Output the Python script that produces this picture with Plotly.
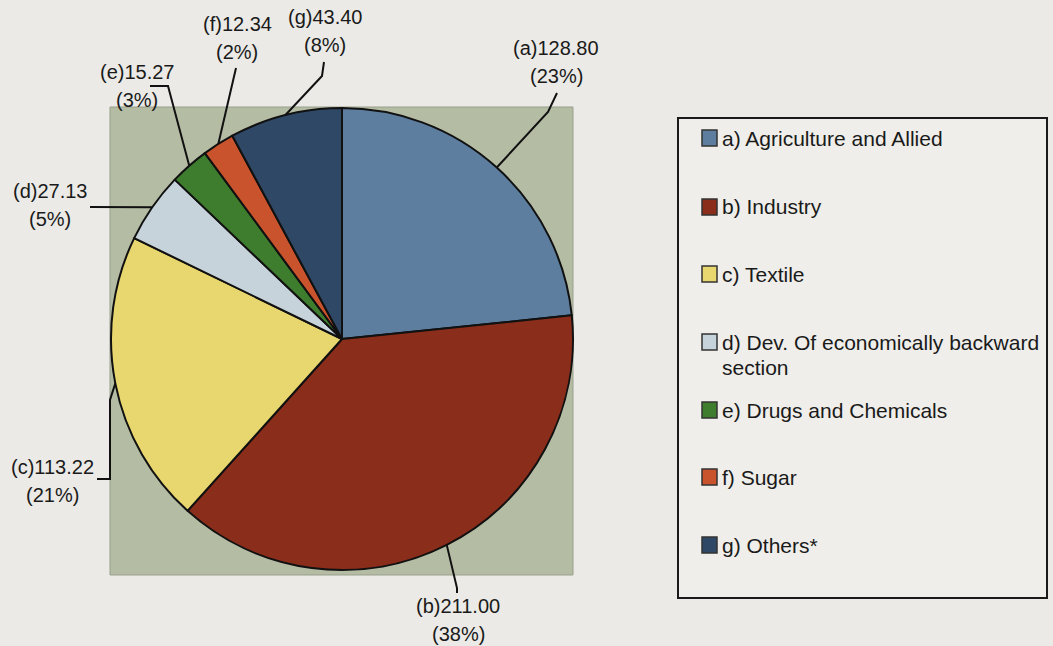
import math
import plotly.graph_objects as go

# ---- data ----
codes = ["a", "b", "c", "d", "e", "f", "g"]
legend_names = ["a) Agriculture and Allied", "b) Industry", "c) Textile",
                "d) Dev. Of economically backward|section", "e) Drugs and Chemicals",
                "f) Sugar", "g) Others*"]
values = [128.80, 211.00, 113.22, 27.13, 15.27, 12.34, 43.40]
percent_labels = ["23%", "38%", "21%", "5%", "3%", "2%", "8%"]
colors = ["#5d7e9f", "#8a2d1b", "#e8d66e", "#c6d3da", "#3e7d2e", "#c9532c", "#2e4866"]

W, H = 1053, 646
def px(x): return x / W
def py(y): return 1 - y / H

FONT = "Liberation Sans, Arial"

# layout helpers (pixel positions)
pie_box = (110, 108, 574, 570)          # left, top, right, bottom
cx, cy, R = (110 + 574) / 2, (108 + 570) / 2, 231
label_pos = [(556, 48), (458, 606), (52, 467), (50, 191), (137, 72), (237, 24), (325, 17)]
line_gap = 28
elbows = [[(548, 112), (557, 93)],
          [(457, 588), (457, 593)],
          [(110, 400), (110, 479), (97, 479)],
          [(90, 207)],
          [(168, 86), (150, 86)],
          [(236, 68)],
          [(322, 76), (324, 62)]]

fig = go.Figure(go.Pie(
    labels=[n.replace("|", " ") for n in legend_names], values=values, sort=False,
    direction="clockwise", rotation=0,
    marker=dict(colors=colors, line=dict(color="#111111", width=2)),
    textinfo="none", hoverinfo="label+value+percent", showlegend=False,
    domain=dict(x=[px(pie_box[0]), px(pie_box[2])], y=[py(pie_box[3]), py(pie_box[1])]),
))

shapes = []
# plot-area rectangle
shapes.append(dict(type="rect", xref="paper", yref="paper", layer="below",
                   x0=px(110), x1=px(573), y0=py(575), y1=py(107),
                   fillcolor="#b5bca4", line=dict(color="#9a9f8c", width=1)))

annotations = []
total = sum(values)
cum = 0
for i, v in enumerate(values):
    mid = (cum + v / 2) / total * 2 * math.pi
    cum += v
    ax_ = cx + R * math.sin(mid)
    ay_ = cy - R * math.cos(mid)
    pts = [(ax_, ay_)] + elbows[i]
    path = "M " + " L ".join(f"{px(x):.5f},{py(y):.5f}" for x, y in pts)
    shapes.append(dict(type="path", xref="paper", yref="paper", path=path,
                       line=dict(color="#111111", width=2)))
    lx, ly = label_pos[i]
    for k, txt in enumerate([f"({codes[i]}){values[i]:.2f}", f"({percent_labels[i]})"]):
        annotations.append(dict(xref="paper", yref="paper", x=px(lx), y=py(ly + k * line_gap),
                                text=txt, showarrow=False, xanchor="center", yanchor="middle",
                                font=dict(family=FONT, size=20, color="#1a1a1a")))

# custom legend
shapes.append(dict(type="rect", xref="paper", yref="paper",
                   x0=px(678), x1=px(1047), y0=py(598), y1=py(118),
                   fillcolor="#efeeea", line=dict(color="#1a1a1a", width=2)))
item_y = [138, 207, 274, 342, 410, 477, 545]
for i, name in enumerate(legend_names):
    yy = item_y[i]
    shapes.append(dict(type="rect", xref="paper", yref="paper",
                       x0=px(702), x1=px(717), y0=py(yy + 8), y1=py(yy - 8),
                       fillcolor=colors[i], line=dict(color="#333333", width=1.5)))
    for k, part in enumerate(name.split("|")):
        annotations.append(dict(xref="paper", yref="paper", x=px(720), y=py(yy + k * 25),
                                text=part, showarrow=False, xanchor="left", yanchor="middle",
                                font=dict(family=FONT, size=21, color="#1a1a1a")))

fig.update_layout(width=W, height=H, margin=dict(l=0, r=0, t=0, b=0),
                  paper_bgcolor="#ebeae6", plot_bgcolor="#ebeae6",
                  shapes=shapes, annotations=annotations, showlegend=False)
fig.write_html("out.html")
